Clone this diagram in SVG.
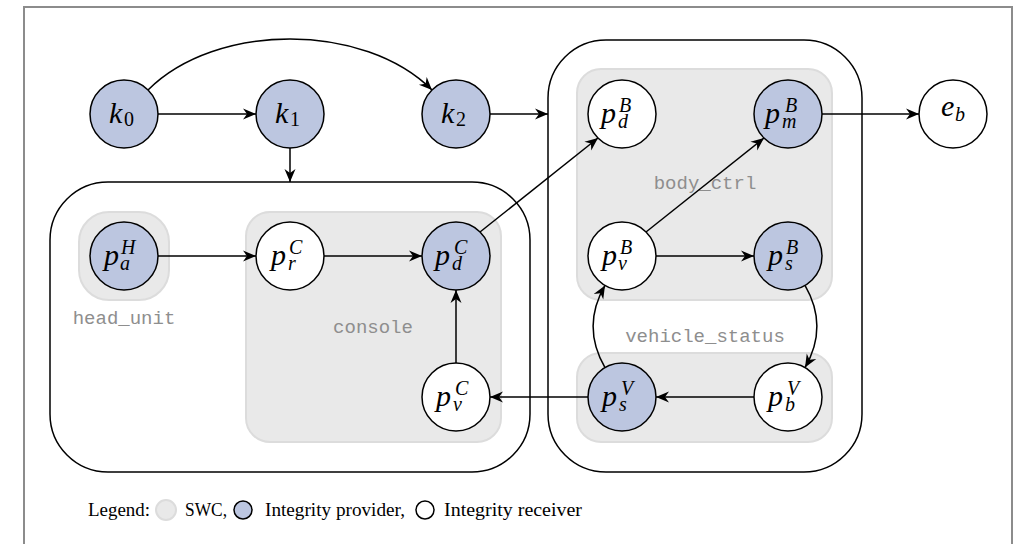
<svg xmlns="http://www.w3.org/2000/svg" width="1023" height="544" viewBox="0 0 1023 544">
  <style>
    .frame { fill: #ffffff; stroke: #8c8c8c; stroke-width: 2; }
    .ecu { fill: none; stroke: #000000; stroke-width: 1.5; }
    .swc { fill: #e9e9e9; stroke: #dcdcdc; stroke-width: 2; }
    .swc-label { font-family: "Liberation Mono", monospace; font-size: 19px; fill: #8e8e8e; text-anchor: middle; }
    .node circle { stroke: #000000; stroke-width: 1.5; }
    .prov { fill: #bcc6e0; }
    .recv { fill: #ffffff; }
    .m { font-family: "Liberation Serif", serif; font-style: italic; font-size: 30px; fill: #000000; }
    .s { font-size: 20px; }
    .edge { fill: none; stroke: #000000; stroke-width: 1.5; marker-end: url(#arr); }
    .legend { font-family: "Liberation Serif", serif; font-size: 19.5px; fill: #000000; }
    .key { stroke: #000000; stroke-width: 1.5; }
  </style>
  <defs>
    <marker id="arr" markerUnits="userSpaceOnUse" viewBox="-14 -7 15 14" markerWidth="15" markerHeight="14" refX="0" refY="0" orient="auto">
      <path d="M0,0 L-13,-5.5 L-9,0 L-13,5.5 Z" fill="#000000"/>
    </marker>
  </defs>

  <rect class="frame" x="24" y="7" width="988" height="552"/>

  <!-- ECU containers -->
  <rect class="ecu" x="50" y="182" width="480" height="290" rx="58" ry="58"/>
  <rect class="ecu" x="548" y="40" width="314" height="432" rx="58" ry="58"/>

  <!-- software components -->
  <g id="swc-head_unit">
    <rect class="swc" x="79" y="212" width="90" height="88" rx="30" ry="30"/>
    <text class="swc-label" x="124" y="324">head_unit</text>
  </g>
  <g id="swc-console">
    <rect class="swc" x="246" y="212" width="255" height="230" rx="24" ry="24"/>
    <text class="swc-label" x="373" y="333">console</text>
  </g>
  <g id="swc-body_ctrl">
    <rect class="swc" x="577" y="69" width="255" height="231" rx="24" ry="24"/>
    <text class="swc-label" x="705" y="189">body_ctrl</text>
  </g>
  <g id="swc-vehicle_status">
    <rect class="swc" x="577" y="353" width="255" height="89" rx="24" ry="24"/>
    <text class="swc-label" x="705" y="342">vehicle_status</text>
  </g>

  <!-- connectors -->
  <g id="connectors">
    <path class="edge" d="M158,114 L256,114"/>
    <path class="edge" d="M148,90 C216,22 364,22 432,90"/>
    <path class="edge" d="M290,148 L290,182"/>
    <path class="edge" d="M490,114 L548,114"/>
    <path class="edge" d="M822,114 L919,114"/>
    <path class="edge" d="M158,256 L256,256"/>
    <path class="edge" d="M324,256 L422,256"/>
    <path class="edge" d="M456,363 L456,290"/>
    <path class="edge" d="M480,232 L598,138"/>
    <path class="edge" d="M646,232 L764,138"/>
    <path class="edge" d="M656,256 L754,256"/>
    <path class="edge" d="M805,285.4 C821,313 821,340 805,367.6"/>
    <path class="edge" d="M605,367.6 C589,340 589,313 605,285.4"/>
    <path class="edge" d="M754,397 L656,397"/>
    <path class="edge" d="M588,397 L490,397"/>
  </g>

  <!-- nodes -->
  <g id="k0" class="node">
    <circle class="prov" cx="124" cy="114" r="34"/>
    <text class="m" x="109" y="123">k<tspan class="s" x="124" y="126" font-style="normal">0</tspan></text>
  </g>
  <g id="k1" class="node">
    <circle class="prov" cx="290" cy="114" r="34"/>
    <text class="m" x="275" y="123">k<tspan class="s" x="290" y="126" font-style="normal">1</tspan></text>
  </g>
  <g id="k2" class="node">
    <circle class="prov" cx="456" cy="114" r="34"/>
    <text class="m" x="441" y="123">k<tspan class="s" x="456" y="126" font-style="normal">2</tspan></text>
  </g>
  <g id="e_b" class="node">
    <circle class="recv" cx="953" cy="114" r="34"/>
    <text class="m" x="941" y="116">e<tspan class="s" x="955" y="121">b</tspan></text>
  </g>
  <g id="p_d_B" class="node">
    <circle class="recv" cx="622" cy="114" r="34"/>
    <text class="m" x="601" y="123">p<tspan class="s" x="619" y="112">B</tspan><tspan class="s" x="618" y="128">d</tspan></text>
  </g>
  <g id="p_m_B" class="node">
    <circle class="prov" cx="788" cy="114" r="34"/>
    <text class="m" x="765" y="123">p<tspan class="s" x="785" y="112">B</tspan><tspan class="s" x="782" y="128">m</tspan></text>
  </g>
  <g id="p_v_B" class="node">
    <circle class="recv" cx="622" cy="256" r="34"/>
    <text class="m" x="602" y="265">p<tspan class="s" x="620" y="254">B</tspan><tspan class="s" x="618" y="270">v</tspan></text>
  </g>
  <g id="p_s_B" class="node">
    <circle class="prov" cx="788" cy="256" r="34"/>
    <text class="m" x="768" y="265">p<tspan class="s" x="786" y="254">B</tspan><tspan class="s" x="785" y="270">s</tspan></text>
  </g>
  <g id="p_s_V" class="node">
    <circle class="prov" cx="622" cy="397" r="34"/>
    <text class="m" x="602" y="406">p<tspan class="s" x="621" y="395">V</tspan><tspan class="s" x="619" y="411">s</tspan></text>
  </g>
  <g id="p_b_V" class="node">
    <circle class="recv" cx="788" cy="397" r="34"/>
    <text class="m" x="768" y="406">p<tspan class="s" x="787" y="395">V</tspan><tspan class="s" x="785" y="411">b</tspan></text>
  </g>
  <g id="p_a_H" class="node">
    <circle class="prov" cx="124" cy="256" r="34"/>
    <text class="m" x="104" y="265">p<tspan class="s" x="121" y="254">H</tspan><tspan class="s" x="120" y="270">a</tspan></text>
  </g>
  <g id="p_r_C" class="node">
    <circle class="recv" cx="290" cy="256" r="34"/>
    <text class="m" x="271" y="265">p<tspan class="s" x="289" y="254">C</tspan><tspan class="s" x="288" y="270">r</tspan></text>
  </g>
  <g id="p_d_C" class="node">
    <circle class="prov" cx="456" cy="256" r="34"/>
    <text class="m" x="435" y="265">p<tspan class="s" x="454" y="254">C</tspan><tspan class="s" x="452" y="270">d</tspan></text>
  </g>
  <g id="p_v_C" class="node">
    <circle class="recv" cx="456" cy="397" r="34"/>
    <text class="m" x="436" y="406">p<tspan class="s" x="455" y="395">C</tspan><tspan class="s" x="453" y="411">v</tspan></text>
  </g>

  <!-- legend -->
  <g id="legend">
    <text class="legend" x="88" y="516" textLength="62" lengthAdjust="spacingAndGlyphs">Legend:</text>
    <circle class="swc" cx="166" cy="510" r="10"/>
    <text class="legend" x="185" y="516" textLength="42" lengthAdjust="spacingAndGlyphs">SWC,</text>
    <circle class="prov key" cx="243" cy="510" r="9"/>
    <text class="legend" x="265" y="516" textLength="140" lengthAdjust="spacingAndGlyphs">Integrity provider,</text>
    <circle class="recv key" cx="425" cy="510" r="9"/>
    <text class="legend" x="444" y="516" textLength="138" lengthAdjust="spacingAndGlyphs">Integrity receiver</text>
  </g>
</svg>
